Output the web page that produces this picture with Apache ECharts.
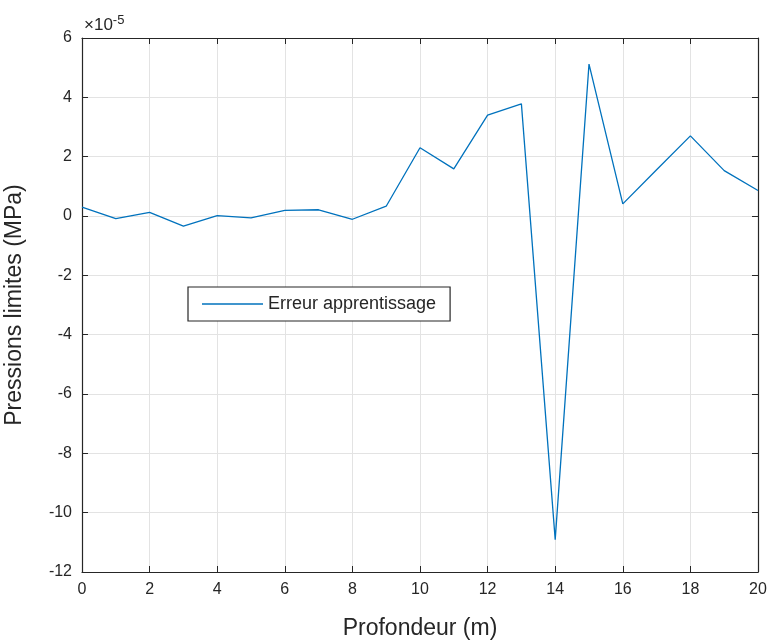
<!DOCTYPE html>
<html>
<head>
<meta charset="utf-8">
<script src="https://cdn.jsdelivr.net/npm/echarts@6/dist/echarts.min.js"></script>
<style>
  html, body { margin: 0; padding: 0; background: #fff; }
  #chart { width: 772px; height: 642px; }
</style>
</head>
<body>
<div id="chart"></div>
<script>
// profondeur (m)
const depth = [0, 1, 2, 3, 4, 5, 6, 7, 8, 9, 10, 11, 12, 13, 14, 15, 16, 17, 18, 19, 20]
// erreur, in units of 1e-5 MPa
const erreur = [0.30, -0.09, 0.12, -0.34, 0.01, -0.06, 0.19, 0.21, -0.11, 0.33,
  2.30, 1.59, 3.40, 3.78, -10.91, 5.12, 0.41, 1.56, 2.70, 1.53, 0.86]
const xTicks = [0, 2, 4, 6, 8, 10, 12, 14, 16, 18, 20]
const yTicks = [-12, -10, -8, -6, -4, -2, 0, 2, 4, 6]

const font = 'Liberation Sans, Arial, Helvetica, sans-serif'
const dark = '#262626'

let chart = echarts.init(document.getElementById('chart'))

// box edges (top / right) with inside ticks, no labels
const hiddenAxis = {
  axisLine: { show: true, onZero: false, lineStyle: { color: dark, width: 1.2 } },
  axisTick: { show: true, inside: true, length: 6, lineStyle: { color: dark } },
  axisLabel: { show: false },
  splitLine: { show: false }
}

chart.setOption({
  animation: false,
  textStyle: { fontFamily: font },
  grid: { left: 82, right: 14, top: 38, bottom: 70, outerBoundsMode: 'none' },
  legend: {
    left: 188, top: 287,
    data: ['Erreur apprentissage'],
    icon: 'rect',
    itemWidth: 61, itemHeight: 1.5, itemGap: 8,
    padding: [8, 14, 8, 14],
    borderColor: dark, borderWidth: 1.2,
    backgroundColor: '#fff',
    textStyle: { fontSize: 18, color: dark, fontFamily: font }
  },
  graphic: [{
    type: 'text', left: 84, top: 14,
    style: {
      text: '×10{s|-5}',
      font: '17px ' + font,
      fill: dark,
      rich: { s: { fontSize: 13, verticalAlign: 'top', padding: [0, 0, 10, 0] } }
    }
  }],
  xAxis: [{
    type: 'value', min: xTicks[0], max: xTicks[xTicks.length - 1], interval: 2,
    name: 'Profondeur (m)', nameLocation: 'middle', nameGap: 45,
    nameTextStyle: { fontSize: 23, color: dark },
    axisLine: { show: true, onZero: false, lineStyle: { color: dark, width: 1.2 } },
    axisTick: { show: true, inside: true, length: 6, lineStyle: { color: dark } },
    axisLabel: { fontSize: 16, color: dark, margin: 10 },
    splitLine: { show: true, lineStyle: { color: '#e3e3e3', width: 1 } }
  }, Object.assign({
    type: 'value', position: 'top', min: 0, max: 20, interval: 2
  }, hiddenAxis)],
  yAxis: [{
    type: 'value', min: yTicks[0], max: yTicks[yTicks.length - 1], interval: 2,
    name: 'Pressions limites (MPa)', nameLocation: 'middle', nameGap: 56,
    nameTextStyle: { fontSize: 23, color: dark },
    axisLine: { show: true, onZero: false, lineStyle: { color: dark, width: 1.2 } },
    axisTick: { show: true, inside: true, length: 6, lineStyle: { color: dark } },
    axisLabel: { fontSize: 16, color: dark, margin: 10 },
    splitLine: { show: true, lineStyle: { color: '#e3e3e3', width: 1 } }
  }, Object.assign({
    type: 'value', position: 'right', min: -12, max: 6, interval: 2
  }, hiddenAxis)],
  series: [{
    name: 'Erreur apprentissage',
    type: 'line',
    data: depth.map((d, i) => [d, erreur[i]]),
    showSymbol: false,
    color: '#0072BD',
    lineStyle: { color: '#0072BD', width: 1.3 }
  }]
})

window.addEventListener('resize', () => {
  chart.resize()
})
</script>
</body>
</html>
